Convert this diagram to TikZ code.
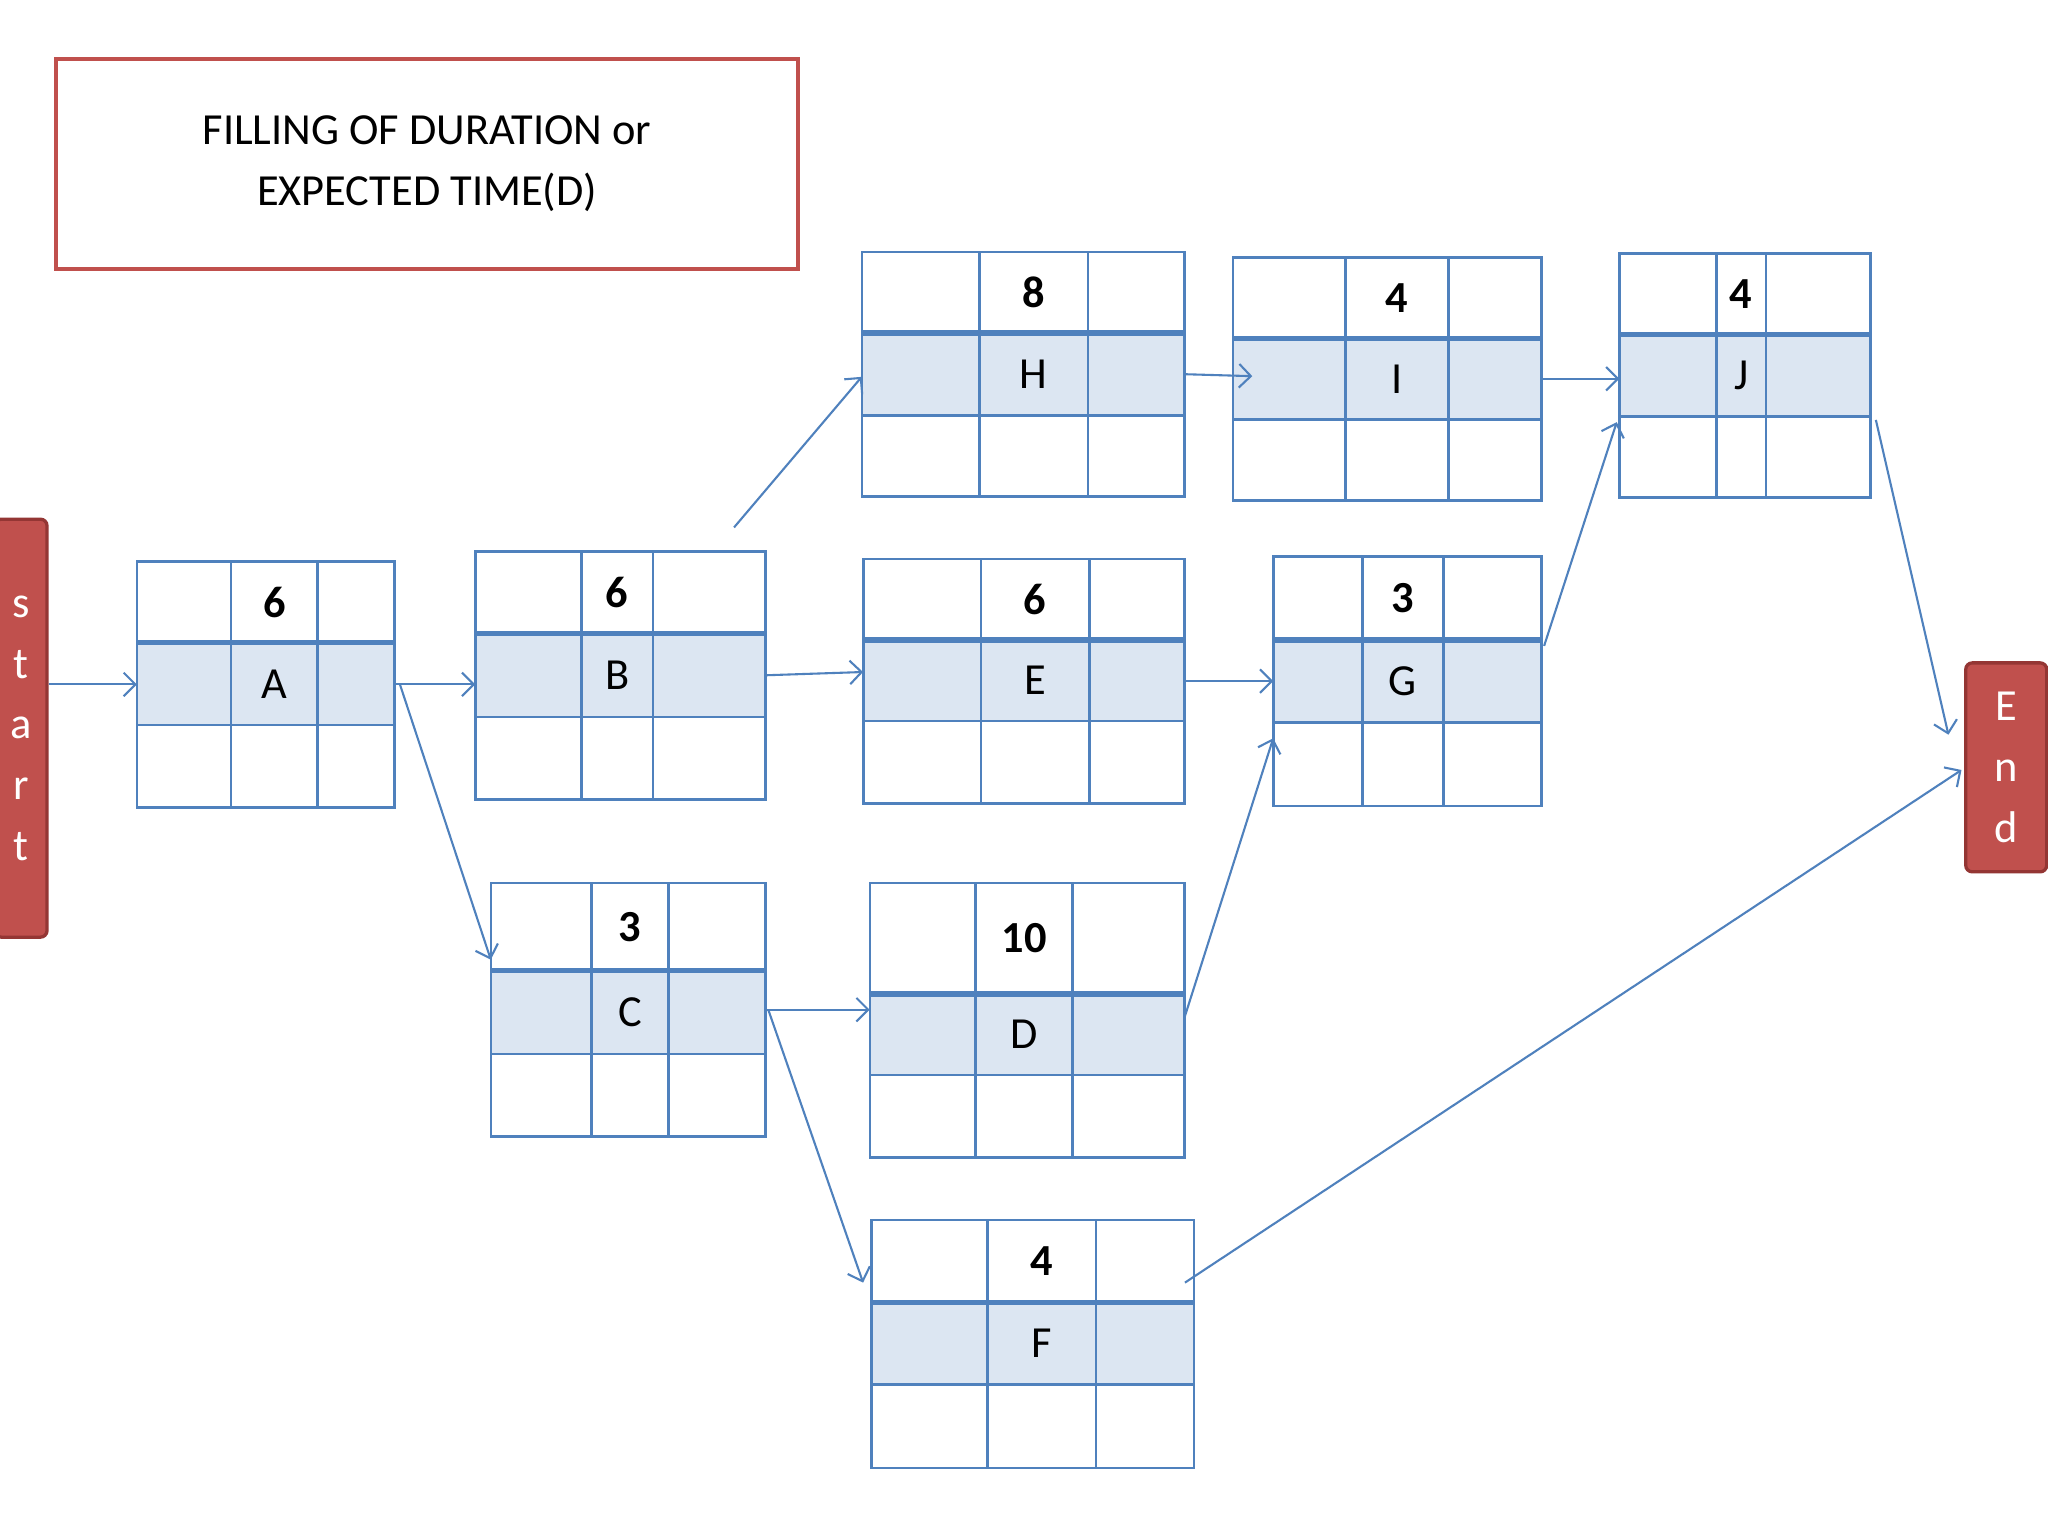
\documentclass[tikz,border=0pt]{standalone}
\usepackage{fontspec}
\setmainfont{Carlito}
\usetikzlibrary{arrows.meta,calc,fit}
\definecolor{lb}{HTML}{4F81BD}
\definecolor{cellf}{HTML}{DCE6F2}
\definecolor{rd}{HTML}{C0504D}
\definecolor{rdd}{HTML}{943634}
\tikzset{
 grid/.style={draw=lb,line width=2pt},
 boxn/.style={inner sep=0pt},
 num/.style={font=\fontsize{34}{40}\selectfont\bfseries},
 let/.style={font=\fontsize{34}{40}\selectfont},
 conn/.style={draw=lb,line width=1.6pt,-{Straight Barb[length=9pt,width=18pt,line width=1.6pt]}},
 term/.style={draw=rdd,fill=rd,line width=2.5pt,rounded corners=5pt,text=white,align=center,font=\fontsize{34}{46.5}\selectfont,inner sep=0pt}
}
\newcommand\cpm[9]{%
 \fill[cellf] (#2,#8) rectangle (#4,#9);
 \draw[grid] (#2,#3) rectangle (#4,#5);
 \draw[grid] (#6,#3)--(#6,#5) (#7,#3)--(#7,#5) (#2,#9)--(#4,#9);
 \draw[grid,line width=4pt] (#2,#8)--(#4,#8);
 \node[boxn,fit={(#2,#3)(#4,#5)}] (#1) {};
 \coordinate (#1n) at ({(#6+#7)/2},{(#3+#8)/2});
 \coordinate (#1l) at ({(#6+#7)/2},{(#8+#9)/2});
}
\begin{document}
\begin{tikzpicture}[x=1pt,y=-1pt]
\useasboundingbox[fill=white] (0,0) rectangle (1568,1176);
\node[draw=rd,line width=3pt,minimum width=568pt,minimum height=161pt,align=center,font=\fontsize{34}{47}\selectfont] (title) at (327,125.5) {FILLING OF DURATION or\\EXPECTED TIME(D)};
\cpm{A}{105}{430}{302}{618}{177}{243}{492}{555}
\cpm{B}{364}{422}{586}{612}{445}{500}{485}{549}
\cpm{C}{376}{676}{586}{870}{453}{512}{743}{807}
\cpm{H}{660}{193}{907}{380}{750}{833}{255}{318}
\cpm{E}{661}{428}{907}{615}{751}{834}{490}{552}
\cpm{D}{666}{676}{907}{886}{747}{821}{761}{823}
\cpm{F}{667}{934}{914}{1124}{756}{839}{997}{1060}
\cpm{I}{944}{197}{1180}{383}{1030}{1109}{259}{321}
\cpm{G}{975}{426}{1180}{617}{1043}{1105}{490}{553}
\cpm{J}{1240}{194}{1432}{381}{1314}{1352}{256}{319}
\foreach \n/\v in {A/6,B/6,C/3,H/8,E/6,D/10,F/4,I/4,G/3,J/4}{\node[num] at (\n n) {\v}; \node[let] at (\n l) {\n};}
\node[term,minimum width=40pt,minimum height=320pt] (start) at (16,557.5) {s\\t\\a\\r\\t};
\node[term,minimum width=62pt,minimum height=160pt] (End) at (1536,587.5) {E\\n\\d};
\draw[conn] (start.east|-A.west) -- (A.west);
\draw[conn] (A.east) -- (B.west|-A.east);
\draw[conn] ($(A.east)+(4,0)$) -- ($(C.north west)+(0,59)$);
\draw[conn] ($(B.north)+(87,-18)$) -- ($(H.west)+(0,2)$);
\draw[conn] (B.east) -- ($(E.west)+(0,-7)$);
\draw[conn] (C.east) -- (D.west|-C.east);
\draw[conn] ($(C.east)+(2,0)$) -- ($(F.west)+(-6,-47)$);
\draw[conn] (H.east) -- ($(I.west)+(15,-2)$);
\draw[conn] (I.east) -- (J.west|-I.east);
\draw[conn] (E.east) -- (G.west|-E.east);
\draw[conn] ($(D.east)+(0,-3)$) -- ($(G.south west)+(0,-52)$);
\draw[conn] ($(G.east)+(2,-27)$) -- ($(J.south west)+(-2,-58)$);
\draw[conn] ($(J.east)+(4,34)$) -- ($(End.west)+(-12,-25)$);
\draw[conn] ($(F.east)+(-7,-47)$) -- ($(End.west)+(-2,2)$);
\end{tikzpicture}
\end{document}
